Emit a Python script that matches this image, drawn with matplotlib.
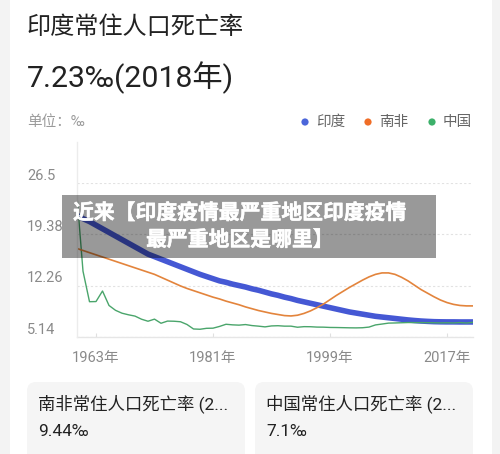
import matplotlib
matplotlib.use("Agg")
import matplotlib.pyplot as plt
from matplotlib import transforms
from matplotlib import patheffects as pe
from matplotlib.patches import FancyBboxPatch, Rectangle, Circle
from matplotlib.lines import Line2D

plt.rcParams['font.family'] = ['Roboto', 'Noto Sans CJK SC', 'DejaVu Sans']

years = list(range(1960, 2022))
india = [22.0, 21.5, 21.1, 20.6, 20.1, 19.6, 19.1, 18.6, 18.1, 17.6,
         17.1, 16.6, 16.25, 15.9, 15.55, 15.2, 14.85, 14.5, 14.15, 13.8,
         13.5, 13.2, 12.9, 12.7, 12.45, 12.25, 12.05, 11.8, 11.6, 11.35,
         11.1, 10.9, 10.65, 10.45, 10.2, 10.0, 9.8, 9.6, 9.4, 9.2,
         9.0, 8.8, 8.6, 8.45, 8.3, 8.15, 8.0, 7.9, 7.8, 7.7,
         7.6, 7.5, 7.42, 7.35, 7.3, 7.26, 7.24, 7.23, 7.23, 7.22,
         7.22, 7.22]
south_africa = [17.4, 17.1, 16.8, 16.5, 16.2, 15.9, 15.6, 15.3, 15.0, 14.7,
                14.4, 14.1, 13.8, 13.4, 13.0, 12.6, 12.2, 11.85, 11.55, 11.25,
                10.95, 10.65, 10.4, 10.1, 9.85, 9.6, 9.3, 9.05, 8.8, 8.6,
                8.4, 8.25, 8.1, 8.05, 8.15, 8.4, 8.75, 9.2, 9.7, 10.3,
                10.9, 11.45, 12.0, 12.5, 13.0, 13.45, 13.8, 14.0, 14.0, 13.8,
                13.4, 12.9, 12.3, 11.7, 11.2, 10.7, 10.25, 9.9, 9.65, 9.5,
                9.44, 9.44]
china = [25.43, 14.24, 10.02, 10.04, 11.50, 9.50, 8.83, 8.43, 8.21, 8.03,
         7.60, 7.32, 7.61, 7.04, 7.34, 7.32, 7.25, 6.87, 6.25, 6.21,
         6.34, 6.36, 6.60, 6.90, 6.82, 6.78, 6.86, 6.72, 6.64, 6.54,
         6.67, 6.70, 6.64, 6.64, 6.49, 6.57, 6.56, 6.51, 6.50, 6.46,
         6.45, 6.43, 6.41, 6.40, 6.42, 6.51, 6.81, 6.93, 7.06, 7.08,
         7.11, 7.14, 7.13, 7.13, 7.12, 7.11, 7.09, 7.11, 7.08, 7.14,
         7.07, 7.18]

y_ticks = [5.14, 12.26, 19.38, 26.5]
y_tick_labels = ["5.14", "12.26", "19.38", "26.5"]
x_ticks = [1963, 1981, 1999, 2017]
x_tick_labels = ["1963年", "1981年", "1999年", "2017年"]
series_names = ["印度", "南非", "中国"]

title = "印度常住人口死亡率"
headline = "7.23‰(2018年)"
unit = "单位：‰"
overlay_lines = ["近来【印度疫情最严重地区印度疫情", "最严重地区是哪里】"]
card_titles = ["南非常住人口死亡率 (2...", "中国常住人口死亡率 (2..."]
card_values = ["9.44‰", "7.1‰"]

W, H = 500, 454
fig = plt.figure(figsize=(W / 100, H / 100), dpi=100)
fig.patch.set_facecolor('#f3f3f3')
px = transforms.Affine2D().scale(1 / W, -1 / H).translate(0, 1) + fig.transFigure

# white card
fig.add_artist(FancyBboxPatch((10, -20), 482, 500, boxstyle="round,pad=0,rounding_size=12",
                              transform=px, facecolor='white', edgecolor='none', zorder=-5))

# axes
left, right, top, bottom = 76.5, 473, 182.5, 337
ax = fig.add_axes([left / W, 1 - bottom / H, (right - left) / W, (bottom - top) / H])
ax.set_facecolor('none')
blue, orange, green = '#4558d4', '#e3843c', '#4aa56b'
ax.plot(years, india, color=blue, lw=4.0, solid_capstyle='butt', zorder=2)
ax.plot(years, china, color=green, lw=1.0, zorder=3)
ax.plot(years, south_africa, color=orange, lw=1.2, zorder=4)
ax.set_xlim(1960, 2021)
ax.set_ylim(5.14, 26.5)
for s in ['top', 'right', 'left']:
    ax.spines[s].set_visible(False)
ax.spines['bottom'].set_color('#e6e6e6')
ax.spines['bottom'].set_linewidth(1.0)
ax.set_yticks(y_ticks)
ax.set_yticklabels([])
ax.tick_params(axis='y', length=0)
ax.yaxis.grid(True, linestyle=(0, (2, 2)), color='#e2e2e2', lw=0.8)
ax.set_axisbelow(True)
ax.set_xticks(x_ticks)
ax.set_xticklabels(x_tick_labels, fontsize=10.5, color='#8a8a8a')
ax.tick_params(axis='x', direction='in', length=3, color='#e0e0e0', pad=10)

# y labels above gridlines
ytrans = transforms.blended_transform_factory(fig.transFigure, ax.transData)
ytrans = transforms.offset_copy(ytrans, fig=fig, x=0, y=7 * 72 / 100, units='points')
for v, lab in zip(y_ticks, y_tick_labels):
    fig.text(27 / W, v, lab, transform=ytrans, fontsize=10.5, color='#8a8a8a',
             ha='left', va='center')

# left axis line extending up
fig.add_artist(Line2D([76.5, 76.5], [142, 337], transform=px, color='#ececec', lw=1.0, zorder=1))

# header texts
fig.text(27, 28, title, transform=px, fontsize=17.4, color='#222222', ha='left', va='center')
fig.text(27, 78, headline, transform=px, fontsize=21.8, color='#222222', ha='left', va='center')
fig.text(27, 122, unit, transform=px, fontsize=10.5, color='#9a9a9a', ha='left', va='center')

# legend
leg_dots = [305, 368, 432]
leg_cols = ['#4b66da', '#f06d26', '#3cb06a']
for x, c, name in zip(leg_dots, leg_cols, series_names):
    fig.add_artist(Circle((x, 122), 3.6, transform=px, facecolor=c, edgecolor='none'))
    fig.text(x + 11, 122, name, transform=px, fontsize=10.5, color='#666666', ha='left', va='center')

# overlay box
fig.add_artist(Rectangle((62, 195), 374, 63, transform=px, facecolor='black', alpha=0.4,
                         edgecolor='none', zorder=10))
stroke = [pe.withStroke(linewidth=0.35, foreground='white')]
fig.text(240, 213, overlay_lines[0], transform=px, fontsize=15, color='white',
         fontweight='bold', ha='center', va='center', zorder=11, path_effects=stroke)
fig.text(240, 240, overlay_lines[1], transform=px, fontsize=15, color='white',
         fontweight='bold', ha='center', va='center', zorder=11, path_effects=stroke)

# bottom cards
for x0, t, v in zip([27, 255], card_titles, card_values):
    fig.add_artist(FancyBboxPatch((x0, 382), 218, 100, boxstyle="round,pad=0,rounding_size=9",
                                  transform=px, facecolor='#f5f5f5', edgecolor='none', zorder=1))
    fig.text(x0 + 11, 404, t, transform=px, fontsize=12.5, color='#222222', ha='left',
             va='center', zorder=2)
    fig.text(x0 + 11, 432, v, transform=px, fontsize=12.5, color='#222222', ha='left',
             va='center', zorder=2)

fig.savefig('out.png', dpi=100, facecolor=fig.get_facecolor())
